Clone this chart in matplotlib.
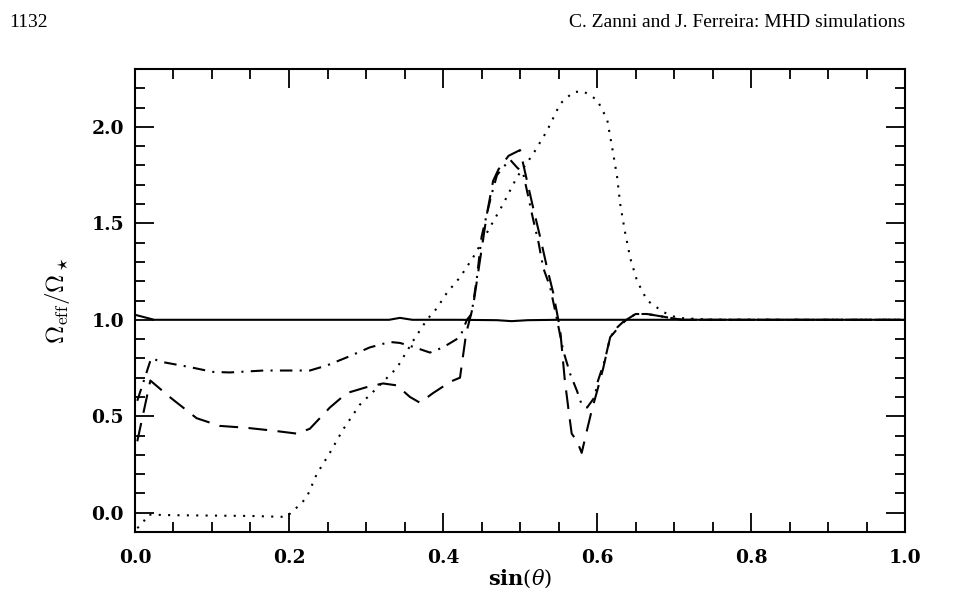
import matplotlib
matplotlib.use("Agg")
import matplotlib.pyplot as plt
from matplotlib.ticker import MultipleLocator, FuncFormatter

plt.rcParams['mathtext.fontset'] = 'cm'

# Solid line
x_solid = [0.0, 0.025, 0.1, 0.2, 0.3, 0.33, 0.344, 0.36, 0.42, 0.47, 0.489, 0.51, 0.55, 0.6, 0.7, 0.8, 1.0]
y_solid = [1.026, 1.0, 1.0, 1.0, 1.0, 1.0, 1.01, 1.0, 1.0, 0.998, 0.993, 0.998, 1.0, 1.0, 1.0, 1.0, 1.0]

# Dotted line
x_dot = [0.003, 0.009, 0.017, 0.05, 0.1, 0.15, 0.197, 0.205, 0.214, 0.223, 0.236, 0.253, 0.27, 0.292,
         0.31, 0.34, 0.361, 0.379, 0.392, 0.405, 0.422, 0.44, 0.461, 0.478, 0.496, 0.517, 0.535,
         0.552, 0.569, 0.582, 0.6, 0.613, 0.621, 0.626, 0.63, 0.636, 0.643, 0.652, 0.665, 0.686,
         0.704, 0.75, 0.8, 0.9, 1.0]
y_dot = [-0.08, -0.06, -0.01, -0.013, -0.015, -0.017, -0.022, 0.01, 0.04, 0.08, 0.2, 0.31, 0.43, 0.56,
         0.63, 0.75, 0.89, 1.0, 1.06, 1.14, 1.22, 1.33, 1.48, 1.6, 1.74, 1.86, 1.98,
         2.12, 2.18, 2.185, 2.14, 2.04, 1.86, 1.74, 1.6, 1.46, 1.32, 1.2, 1.1, 1.04,
         1.01, 1.0, 1.0, 1.0, 1.0]

# Dashed line
x_dash = [0.003, 0.02, 0.045, 0.08, 0.11, 0.145, 0.18, 0.21, 0.227, 0.253, 0.275, 0.3, 0.322, 0.34,
          0.357, 0.37, 0.387, 0.41, 0.422, 0.43, 0.439, 0.448, 0.457, 0.465, 0.472, 0.485, 0.5,
          0.509, 0.517, 0.526, 0.535, 0.543, 0.552, 0.558, 0.563, 0.567, 0.574, 0.58, 0.587,
          0.593, 0.6, 0.608, 0.617, 0.63, 0.638, 0.65, 0.665, 0.68, 0.71, 0.8, 0.9, 1.0]
y_dash = [0.37, 0.685, 0.6, 0.49, 0.45, 0.44, 0.425, 0.41, 0.435, 0.545, 0.62, 0.65, 0.67, 0.66,
          0.6, 0.57, 0.62, 0.68, 0.7, 0.93, 1.07, 1.31, 1.55, 1.72, 1.78, 1.85, 1.88,
          1.72, 1.58, 1.43, 1.27, 1.14, 0.95, 0.69, 0.53, 0.41, 0.37, 0.31, 0.43,
          0.53, 0.63, 0.75, 0.91, 0.97, 1.0, 1.03, 1.03, 1.02, 1.0, 1.0, 1.0, 1.0]

# Dash-dot line
x_dd = [0.003, 0.021, 0.037, 0.071, 0.101, 0.123, 0.167, 0.21, 0.227, 0.249, 0.275, 0.305, 0.331,
        0.344, 0.361, 0.383, 0.4, 0.422, 0.431, 0.437, 0.444, 0.45, 0.457, 0.463, 0.47, 0.478,
        0.487, 0.496, 0.504, 0.51, 0.517, 0.524, 0.53, 0.539, 0.548, 0.556, 0.565, 0.574, 0.58,
        0.587, 0.597, 0.6, 0.61, 0.617, 0.626, 0.634, 0.65, 0.665, 0.68, 0.71, 0.8, 0.9, 1.0]
y_dd = [0.58, 0.8, 0.78, 0.755, 0.73, 0.727, 0.737, 0.737, 0.737, 0.763, 0.805, 0.857, 0.885,
        0.88, 0.86, 0.83, 0.857, 0.91, 1.0, 1.03, 1.22, 1.43, 1.55, 1.65, 1.75, 1.79,
        1.83, 1.79, 1.76, 1.65, 1.52, 1.4, 1.27, 1.17, 1.0, 0.84, 0.72, 0.63, 0.56,
        0.545, 0.6, 0.67, 0.79, 0.91, 0.96, 0.99, 1.03, 1.03, 1.02, 1.0, 1.0, 1.0, 1.0]

x_ticks = [0.0, 0.2, 0.4, 0.6, 0.8, 1.0]
y_ticks = [0.0, 0.5, 1.0, 1.5, 2.0]

fig = plt.figure(figsize=(9.64, 5.93), dpi=100)
ax = fig.add_axes([0.140, 0.1029, 0.799, 0.7807])

lw = 1.5
ax.plot(x_solid, y_solid, color='black', lw=lw, ls='-')
ax.plot(x_dot, y_dot, color='black', lw=lw, ls=(0, (1, 3.5)))
ax.plot(x_dash, y_dash, color='black', lw=lw, ls=(0, (9, 5)))
ax.plot(x_dd, y_dd, color='black', lw=lw, ls=(0, (6, 3.5, 1, 3.5)))

ax.set_xlim(0.0, 1.0)
ax.set_ylim(-0.1, 2.3)
ax.set_xticks(x_ticks)
ax.set_yticks(y_ticks)
ax.xaxis.set_minor_locator(MultipleLocator(0.05))
ax.yaxis.set_minor_locator(MultipleLocator(0.1))
fmt = FuncFormatter(lambda v, p: '%.1f' % v)
ax.xaxis.set_major_formatter(fmt)
ax.yaxis.set_major_formatter(fmt)
ax.tick_params(which='both', direction='in', top=True, right=True, width=1.3)
ax.tick_params(which='major', length=14)
ax.tick_params(which='minor', length=7)
ax.tick_params(axis='x', which='major', pad=12)
ax.tick_params(axis='y', which='major', pad=8)
for lab in ax.get_xticklabels() + ax.get_yticklabels():
    lab.set_fontfamily('DejaVu Serif')
    lab.set_fontweight('bold')
    lab.set_fontsize(13.5)
for s in ax.spines.values():
    s.set_linewidth(1.5)

ax.set_xlabel(r'$\mathbf{sin}(\theta)$', fontsize=15, labelpad=1, math_fontfamily='dejavuserif')
ax.set_ylabel(r'$\Omega_{\rm eff}/\Omega_\star$', fontsize=18, labelpad=14)

fig.text(0.010, 0.962, '1132', fontsize=14, family='Liberation Serif', va='center', ha='left')
fig.text(0.939, 0.962, 'C. Zanni and J. Ferreira: MHD simulations', fontsize=14,
         family='Liberation Serif', va='center', ha='right')

fig.savefig('out.png', dpi=100)
